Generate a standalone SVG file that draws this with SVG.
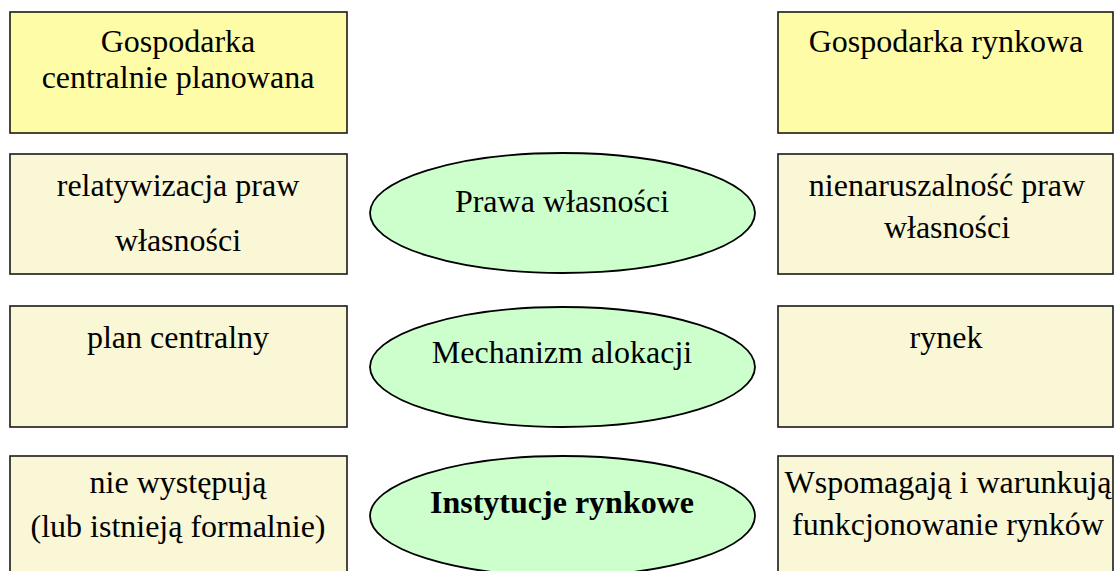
<svg xmlns="http://www.w3.org/2000/svg" width="1116" height="571" viewBox="0 0 1116 571" font-family="'Liberation Serif', Tinos, 'Times New Roman', Times, serif">
  <style>
    .box { stroke: #1a1a1a; stroke-width: 1.6; }
    .head { fill: #FFFCA8; }
    .cell { fill: #FAF7D6; }
    .oval { fill: #CCFFCC; stroke: #000; stroke-width: 1.8; }
    .t { font-family: 'Liberation Serif', Tinos, 'Times New Roman', Times, serif; font-size: 32px; font-weight: normal; fill: #000; text-anchor: middle; }
    .bold { font-weight: bold; }
  </style>
  <rect width="1116" height="571" fill="#fff"/>

  <!-- column headers -->
  <g id="head-planned">
    <rect class="box head" x="10" y="12" width="337" height="121"/>
    <text class="t" x="178" y="52">Gospodarka</text>
    <text class="t" x="178" y="88">centralnie planowana</text>
  </g>
  <g id="head-market">
    <rect class="box head" x="778" y="12" width="335" height="121"/>
    <text class="t" x="946" y="52">Gospodarka rynkowa</text>
  </g>

  <!-- row 1: property rights -->
  <g id="planned-rights">
    <rect class="box cell" x="10" y="154" width="337" height="120"/>
    <text class="t" x="178" y="196">relatywizacja praw</text>
    <text class="t" x="178" y="251">własności</text>
  </g>
  <g id="topic-rights">
    <ellipse class="oval" cx="562.5" cy="213" rx="192.5" ry="60"/>
    <text class="t" x="562" y="212">Prawa własności</text>
  </g>
  <g id="market-rights">
    <rect class="box cell" x="778" y="154" width="335" height="120"/>
    <text class="t" x="947" y="196">nienaruszalność praw</text>
    <text class="t" x="947" y="238">własności</text>
  </g>

  <!-- row 2: allocation -->
  <g id="planned-allocation">
    <rect class="box cell" x="10" y="306" width="337" height="121"/>
    <text class="t" x="178" y="348">plan centralny</text>
  </g>
  <g id="topic-allocation">
    <ellipse class="oval" cx="562.5" cy="367" rx="192.5" ry="60"/>
    <text class="t" x="562" y="363">Mechanizm alokacji</text>
  </g>
  <g id="market-allocation">
    <rect class="box cell" x="778" y="306" width="335" height="121"/>
    <text class="t" x="946" y="348">rynek</text>
  </g>

  <!-- row 3: market institutions -->
  <g id="planned-institutions">
    <rect class="box cell" x="10" y="456" width="337" height="130"/>
    <text class="t" x="178" y="493">nie występują</text>
    <text class="t" x="178" y="537">(lub istnieją formalnie)</text>
  </g>
  <g id="topic-institutions">
    <ellipse class="oval" cx="562.5" cy="516" rx="192.5" ry="60"/>
    <text class="t bold" x="562" y="513">Instytucje rynkowe</text>
  </g>
  <g id="market-institutions">
    <rect class="box cell" x="778" y="456" width="335" height="130"/>
    <text class="t" x="948" y="493">Wspomagają i warunkują</text>
    <text class="t" x="948" y="535">funkcjonowanie rynków</text>
  </g>

  <g id="connectors"/>
</svg>
